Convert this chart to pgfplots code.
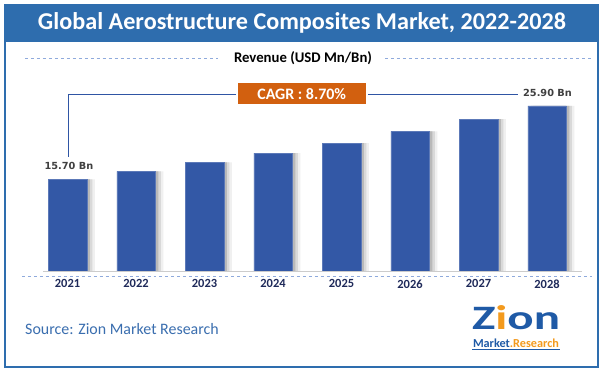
\documentclass[border=0pt]{standalone}
\usepackage{pgfplots}
\pgfplotsset{compat=1.18}
\usepackage{fontspec}
\setmainfont{Carlito}
\newfontfamily\dejavu{DejaVu Sans}
\definecolor{frameblue}{HTML}{2E6DAE}
\definecolor{barblue}{HTML}{3358A6}
\definecolor{cagr}{HTML}{D2600F}
\definecolor{navy}{HTML}{1F2A5A}
\definecolor{lineblue}{HTML}{2F55A4}
\definecolor{dashblue}{HTML}{8FAADC}
\definecolor{zorange}{HTML}{F39A1E}
\definecolor{zblue}{HTML}{1F5AA6}
\definecolor{srcblue}{HTML}{3A6EAF}
\definecolor{labgray}{HTML}{404040}

\pgfplotstableread{
x val
0 15.70
1 16.81
2 18.05
3 19.34
4 20.73
5 22.35
6 24.06
7 25.90
}\datatable

\begin{document}
\begin{tikzpicture}[x=1bp,y=1bp]
\fill[white] (0,0) rectangle (603,372);
\fill[frameblue] (4,330) rectangle (599,368);
\draw[frameblue, line width=2.5bp] (5,5) rectangle (598,367);
\node[text=white, font=\bfseries, inner sep=0] at (302,349) {\resizebox{528bp}{!}{Global Aerostructure Composites Market, 2022-2028}};
\node[font=\bfseries\fontsize{14.8}{16}\selectfont, inner sep=0] at (303,314) {Revenue (USD Mn/Bn)};
\draw[dashblue, dashed, line width=0.8bp] (25,314)--(218,314);
\draw[dashblue, dashed, line width=0.8bp] (385,314)--(592,314);

\begin{axis}[at={(33.25bp,101bp)}, anchor=south west, scale only axis,
  width=548bp, height=209.2bp, xmin=-0.5, xmax=7.5, ymin=3, ymax=32,
  axis line style={draw=none}, ytick=\empty, xtick=data,
  xticklabels={2021,2022,2023,2024,2025,2026,2027,2028},
  major tick length=0pt,
  xticklabel style={font=\bfseries\fontsize{12.5}{13}\selectfont, text=navy, yshift=-5bp},
  ybar, bar width=38.5bp, clip=false]
\addplot[fill=gray!12, draw=none, bar shift=8bp] table[x=x,y=val]{\datatable};
\addplot[fill=gray!30, draw=none, bar shift=5.5bp] table[x=x,y=val]{\datatable};
\addplot[fill=gray!55, draw=none, bar shift=3bp] table[x=x,y=val]{\datatable};
\addplot[fill=barblue, draw=barblue!80!white, line width=0.4bp, bar shift=0pt] table[x=x,y=val]{\datatable};
\end{axis}

\draw[gray!40, line width=0.8bp] (43,101)--(582,101);
\draw[dashblue, dashed, line width=0.8bp] (22,96)--(592,96);

\draw[lineblue, line width=1bp] (236,278) -- (68.3,278) -- (68.3,214.7);
\node[fill=cagr, text=white, font=\bfseries\fontsize{16}{18}\selectfont, minimum width=128bp, minimum height=21bp, inner sep=0] at (301.7,278.3) {CAGR : 8.70\%};
\draw[lineblue, line width=1bp] (368,278)--(518.3,278);
\node[text=labgray, font=\dejavu\bfseries\fontsize{9.8}{11}\selectfont, inner sep=0] at (547.5,278.7) {25.90 Bn};
\node[text=labgray, font=\dejavu\bfseries\fontsize{9.8}{11}\selectfont, inner sep=0] at (68.9,205.7) {15.70 Bn};

\node[anchor=west, text=srcblue, font=\fontsize{16}{18}\selectfont, inner sep=0] at (25,43) {Source: Zion Market Research};

\node[inner sep=0, font=\bfseries] at (516,54.5) {\resizebox{88bp}{24bp}{\textcolor{zblue}{Z}\textcolor{zorange}{i}\textcolor{zblue}{on}}};
\node[inner sep=0, font=\bfseries] at (516,28.5) {\resizebox{86bp}{!}{\textcolor{zblue}{Market}\textcolor{zorange}{.Research}}};
\draw[zblue, line width=0.6bp] (472,22.5)--(560,22.5);
\end{tikzpicture}
\end{document}
